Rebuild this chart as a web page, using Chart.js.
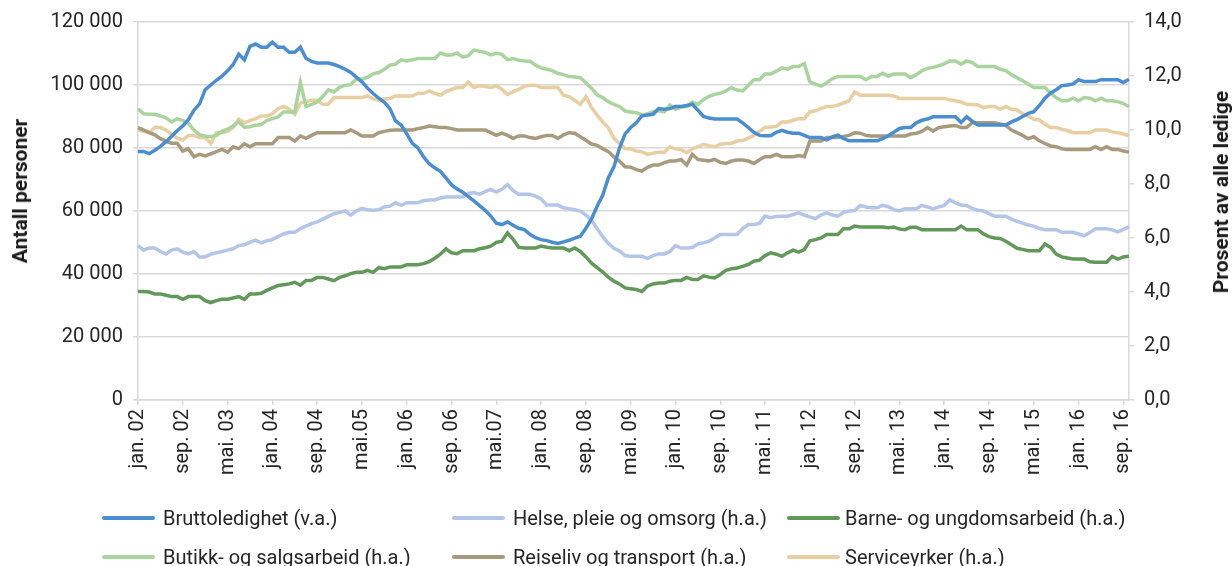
<!DOCTYPE html>
<html>
<head>
<meta charset="utf-8">
<script src="https://cdn.jsdelivr.net/npm/chart.js@4/dist/chart.umd.min.js"></script>
<style>
  html, body { margin: 0; padding: 0; background: #fff; }
  #wrap { position: relative; width: 1232px; height: 566px; overflow: hidden; font-family: Roboto, "Noto Sans", sans-serif; color: #262626; }
  canvas { position: absolute; left: 0; top: 0; }
  .axt { position: absolute; font-weight: bold; font-size: 21px; white-space: nowrap; transform: translate(-50%, -50%) rotate(-90deg); color: #1a1a1a; }
  .lg { position: absolute; font-size: 20px; white-space: nowrap; line-height: 24px; }
  .lgl { position: absolute; height: 4px; border-radius: 2px; }
</style>
</head>
<body>
<div id="wrap">
  <canvas id="c" width="1232" height="566"></canvas>
</div>
<script>
// ---- data ----
const monthNames = ["jan.","feb.","mar.","apr.","mai.","jun.","jul.","aug.","sep.","okt.","nov.","des."];
const firstYear = 2002;
const monthCount = 178; // jan. 2002 - okt. 2016

const tickLabels = ["jan. 02","sep. 02","mai. 03","jan. 04","sep. 04","mai.05","jan. 06","sep. 06","mai.07","jan. 08","sep. 08","mai. 09","jan. 10","sep. 10","mai. 11","jan. 12","sep. 12","mai. 13","jan. 14","sep. 14","mai. 15","jan. 16","sep. 16"];
const tickEvery = 8;

const seriesNames = ["Bruttoledighet (v.a.)","Helse, pleie og omsorg (h.a.)","Barne- og ungdomsarbeid (h.a.)","Butikk- og salgsarbeid (h.a.)","Reiseliv og transport (h.a.)","Serviceyrker (h.a.)"];

const bruttoledighet = [
  78900,78900,78200,79300,80500,82000,83700,85500,87000,89000,
  92000,94000,98500,100000,101500,102800,104500,106500,109800,108000,
  112300,113000,112000,112000,113600,112000,112000,110400,110400,112000,
  108500,107500,107000,107000,107000,106500,105800,105000,104000,102500,
  101000,99000,97300,95800,94500,92500,88600,87300,84500,81500,
  80000,77200,75000,73700,72600,70500,68300,67000,66000,64600,
  63200,61700,60200,58400,56100,55700,56500,55500,54500,54100,
  52600,51500,50900,50600,50100,49700,50200,50700,51400,52000,
  54500,57500,61500,65000,70500,74000,80000,84500,86500,88000,
  90200,90500,90700,92500,92300,92500,93200,93200,93500,93900,
  92000,90000,89500,89200,89200,89200,89200,89200,88000,86500,
  85000,84000,83900,83900,85000,85600,85000,84700,84700,84000,
  83300,83300,83300,82600,83500,84100,83000,82300,82300,82300,
  82300,82300,82300,83000,83900,85000,86200,86500,86500,88000,
  88800,89200,89900,89900,89900,89900,89900,88100,89900,88500,
  87300,87300,87300,87300,87300,87300,88300,89000,90000,91000,
  91500,93500,95800,97500,98500,99800,100000,100300,101700,101100,
  101100,101100,101700,101700,101700,101700,100800,101800
];

const helse = [
  5.72,5.55,5.63,5.63,5.50,5.41,5.55,5.60,5.48,5.41,
  5.50,5.30,5.30,5.40,5.45,5.50,5.55,5.60,5.72,5.75,
  5.85,5.92,5.82,5.90,5.94,6.05,6.15,6.21,6.21,6.35,
  6.44,6.53,6.60,6.70,6.80,6.90,6.95,7.00,6.85,7.00,
  7.10,7.05,7.03,7.05,7.15,7.18,7.31,7.21,7.31,7.31,
  7.31,7.38,7.41,7.41,7.48,7.52,7.52,7.52,7.52,7.65,
  7.68,7.62,7.72,7.80,7.70,7.80,7.98,7.75,7.62,7.62,
  7.62,7.55,7.45,7.22,7.22,7.22,7.12,7.08,7.05,7.00,
  6.85,6.65,6.35,6.05,5.80,5.62,5.52,5.35,5.32,5.32,
  5.32,5.24,5.35,5.41,5.41,5.50,5.72,5.63,5.63,5.65,
  5.78,5.82,5.88,6.00,6.13,6.13,6.13,6.13,6.35,6.50,
  6.50,6.54,6.81,6.75,6.80,6.81,6.81,6.87,6.93,6.85,
  6.78,6.72,6.85,6.93,6.85,6.81,6.95,7.00,7.02,7.21,
  7.15,7.12,7.12,7.21,7.16,7.05,7.00,7.08,7.08,7.08,
  7.21,7.15,7.08,7.15,7.21,7.41,7.30,7.22,7.20,7.10,
  7.03,7.00,6.90,6.81,6.81,6.81,6.70,6.62,6.55,6.48,
  6.44,6.35,6.31,6.31,6.31,6.21,6.21,6.21,6.15,6.09,
  6.20,6.34,6.34,6.34,6.30,6.23,6.32,6.41
];

const barne = [
  4.02,4.02,4.00,3.93,3.93,3.88,3.83,3.83,3.73,3.83,
  3.83,3.83,3.68,3.61,3.68,3.73,3.73,3.78,3.83,3.73,
  3.93,3.93,3.95,4.06,4.15,4.24,4.27,4.30,4.36,4.25,
  4.43,4.43,4.54,4.54,4.48,4.42,4.54,4.60,4.68,4.73,
  4.73,4.80,4.73,4.90,4.86,4.93,4.93,4.93,5.01,5.01,
  5.01,5.05,5.12,5.25,5.40,5.60,5.45,5.42,5.53,5.53,
  5.53,5.60,5.64,5.70,5.84,5.88,6.19,5.95,5.65,5.63,
  5.63,5.63,5.70,5.66,5.63,5.63,5.63,5.53,5.63,5.50,
  5.30,5.07,4.90,4.74,4.55,4.40,4.30,4.15,4.12,4.09,
  4.02,4.22,4.30,4.33,4.33,4.40,4.43,4.43,4.54,4.46,
  4.46,4.60,4.55,4.52,4.65,4.80,4.86,4.89,4.95,5.02,
  5.14,5.18,5.35,5.45,5.40,5.32,5.45,5.55,5.48,5.57,
  5.90,5.94,6.00,6.13,6.13,6.13,6.34,6.34,6.44,6.41,
  6.41,6.41,6.41,6.41,6.38,6.41,6.33,6.31,6.40,6.40,
  6.31,6.31,6.31,6.31,6.31,6.31,6.31,6.44,6.31,6.31,
  6.31,6.15,6.05,6.00,5.98,5.88,5.75,5.62,5.58,5.53,
  5.53,5.53,5.78,5.65,5.40,5.30,5.26,5.22,5.22,5.22,
  5.12,5.10,5.10,5.10,5.32,5.22,5.30,5.32
];

const butikk = [
  10.79,10.60,10.58,10.58,10.52,10.45,10.30,10.42,10.35,10.25,
  10.00,9.82,9.78,9.75,9.80,9.95,10.03,10.15,10.30,10.10,
  10.12,10.18,10.20,10.35,10.42,10.48,10.67,10.67,10.67,11.76,
  10.87,10.95,11.04,11.24,11.49,11.41,11.58,11.66,11.68,11.90,
  11.88,11.95,12.08,12.13,12.25,12.40,12.44,12.60,12.56,12.60,
  12.65,12.65,12.65,12.65,12.85,12.78,12.78,12.85,12.70,12.75,
  12.96,12.92,12.87,12.78,12.84,12.80,12.60,12.65,12.58,12.56,
  12.55,12.40,12.30,12.25,12.20,12.10,12.05,11.98,11.96,11.94,
  11.75,11.55,11.30,11.20,11.05,10.95,10.87,10.70,10.67,10.64,
  10.55,10.60,10.68,10.71,10.67,10.92,10.77,10.85,10.87,11.04,
  10.95,11.12,11.25,11.32,11.36,11.45,11.57,11.48,11.45,11.65,
  11.86,11.86,12.07,12.07,12.18,12.30,12.25,12.35,12.35,12.46,
  11.78,11.70,11.63,11.75,11.90,11.98,11.98,11.98,11.98,11.98,
  11.86,11.98,11.98,12.10,12.00,12.07,12.07,12.07,11.94,12.05,
  12.19,12.28,12.32,12.38,12.45,12.56,12.56,12.44,12.56,12.50,
  12.35,12.35,12.35,12.35,12.25,12.20,12.05,11.94,11.82,11.70,
  11.57,11.57,11.57,11.35,11.20,11.08,11.08,11.18,11.08,11.20,
  11.18,11.08,11.18,11.08,11.08,11.05,10.98,10.87
];

const reiseliv = [
  10.09,10.00,9.90,9.82,9.68,9.58,9.51,9.51,9.22,9.31,
  9.01,9.10,9.04,9.12,9.20,9.28,9.18,9.38,9.31,9.49,
  9.38,9.49,9.49,9.49,9.49,9.72,9.72,9.72,9.59,9.78,
  9.69,9.80,9.90,9.90,9.90,9.90,9.90,9.90,10.00,9.90,
  9.78,9.78,9.78,9.90,9.95,9.99,10.00,10.00,10.00,10.00,
  10.05,10.09,10.15,10.12,10.09,10.09,10.05,10.00,10.00,10.00,
  10.00,10.00,10.00,9.90,9.80,9.88,9.80,9.69,9.78,9.78,
  9.72,9.69,9.75,9.80,9.80,9.69,9.82,9.90,9.88,9.75,
  9.62,9.48,9.43,9.31,9.20,9.00,8.85,8.64,8.62,8.53,
  8.48,8.62,8.70,8.70,8.79,8.85,8.85,8.91,8.70,9.10,
  8.91,8.88,8.85,8.91,8.80,8.76,8.85,8.89,8.89,8.85,
  8.76,8.90,9.01,9.01,9.10,9.01,9.01,9.01,9.05,9.01,
  9.59,9.59,9.59,9.72,9.72,9.72,9.76,9.80,9.90,9.88,
  9.80,9.78,9.78,9.78,9.78,9.78,9.78,9.78,9.85,9.88,
  9.95,10.09,9.96,10.09,10.12,10.15,10.17,10.09,10.09,10.27,
  10.27,10.27,10.27,10.27,10.22,10.17,10.00,9.90,9.80,9.68,
  9.75,9.60,9.50,9.41,9.38,9.30,9.28,9.28,9.28,9.28,
  9.28,9.38,9.28,9.38,9.28,9.28,9.22,9.18
];

const serviceyrker = [
  10.00,9.95,9.90,10.09,10.09,10.00,9.84,9.70,9.63,9.80,
  9.80,9.72,9.72,9.51,9.90,9.90,9.95,10.09,10.40,10.27,
  10.35,10.42,10.52,10.52,10.60,10.79,10.87,10.77,10.58,11.00,
  11.05,11.10,11.10,10.95,10.95,11.20,11.20,11.20,11.20,11.20,
  11.20,11.26,11.15,11.10,11.15,11.17,11.26,11.26,11.26,11.26,
  11.36,11.36,11.45,11.36,11.29,11.42,11.50,11.57,11.57,11.78,
  11.57,11.64,11.62,11.57,11.64,11.50,11.32,11.42,11.50,11.62,
  11.66,11.66,11.57,11.57,11.57,11.57,11.29,11.24,11.10,10.95,
  11.24,10.83,10.55,10.30,10.09,9.70,9.50,9.31,9.31,9.22,
  9.20,9.10,9.14,9.18,9.18,9.38,9.30,9.28,9.16,9.30,
  9.38,9.47,9.42,9.38,9.47,9.49,9.51,9.59,9.61,9.70,
  9.80,9.95,10.09,10.11,10.13,10.30,10.30,10.36,10.42,10.42,
  10.67,10.71,10.80,10.87,10.87,10.92,11.00,11.08,11.41,11.29,
  11.29,11.29,11.29,11.29,11.29,11.26,11.17,11.17,11.17,11.17,
  11.17,11.17,11.17,11.17,11.17,11.12,11.08,11.04,10.95,10.94,
  10.93,10.83,10.87,10.87,10.77,10.87,10.77,10.74,10.60,10.52,
  10.40,10.37,10.21,10.09,10.09,10.03,9.98,9.90,9.90,9.90,
  9.90,10.00,10.00,10.00,9.93,9.90,9.85,9.78
];

// ---- build ----
const categories = [];
for (let i = 0; i < monthCount; i++) {
  const y = firstYear + Math.floor(i / 12);
  categories.push(monthNames[i % 12] + " " + String(y % 100).padStart(2, "0"));
}

const colors = ["#4a8ed0", "#b4c6e7", "#62985a", "#a9d49d", "#a89a7c", "#e8cfa1"];
const values = [bruttoledighet, helse, barne, butikk, reiseliv, serviceyrker];
const axes = ["y", "y1", "y1", "y1", "y1", "y1"];
// draw order: blue on top
const drawOrder = [0, 1, 2, 3, 4, 5];

const datasets = seriesNames.map((name, i) => ({
  label: name,
  data: values[i],
  yAxisID: axes[i],
  borderColor: colors[i],
  backgroundColor: colors[i],
  borderWidth: 3.5,
  pointRadius: 0,
  tension: 0,
  fill: false,
  order: drawOrder[i]
}));

const tickFont = { family: "Roboto", size: 20 };
const gridCol = "#d9d9d9";

function fmtLeft(v) {
  return String(v).replace(/\B(?=(\d{3})+(?!\d))/g, " ");
}
function fmtRight(v) {
  return Number(v).toFixed(1).replace(".", ",");
}

new Chart(document.getElementById("c").getContext("2d"), {
  type: "line",
  data: { labels: categories, datasets: datasets },
  options: {
    responsive: false,
    animation: false,
    layout: { padding: { top: 22, left: 0, right: 0, bottom: 0 } },
    plugins: { legend: { display: false }, tooltip: { enabled: false } },
    scales: {
      x: {
        type: "category",
        offset: false,
        grid: { drawOnChartArea: false, color: gridCol, tickLength: 5, lineWidth: 1.5 },
        border: { color: gridCol, width: 1.5 },
        ticks: {
          autoSkip: false, maxRotation: 90, minRotation: 90, padding: 4,
          font: tickFont, color: "#262626",
          callback: (v, i) => (i % tickEvery === 0 ? tickLabels[i / tickEvery] : null)
        },
        afterFit: (s) => { s.height = 166; }
      },
      y: {
        position: "left", min: 0, max: 120000,
        grid: { color: gridCol, tickLength: 5, lineWidth: 1.5 },
        border: { color: gridCol, width: 1.5 },
        ticks: { stepSize: 20000, padding: 10, font: tickFont, color: "#262626", callback: fmtLeft },
        afterFit: (s) => { s.width = 138; }
      },
      y1: {
        position: "right", min: 0, max: 14,
        grid: { drawOnChartArea: false, color: gridCol, tickLength: 5, lineWidth: 1.5 },
        border: { color: gridCol, width: 1.5 },
        ticks: { stepSize: 2, padding: 10, font: tickFont, color: "#262626", callback: fmtRight },
        afterFit: (s) => { s.width = 103; }
      }
    }
  }
});

// ---- axis titles ----
const wrap = document.getElementById("wrap");
function addTitle(text, x, y) {
  const d = document.createElement("div");
  d.className = "axt";
  d.textContent = text;
  d.style.left = x + "px";
  d.style.top = y + "px";
  wrap.appendChild(d);
}
addTitle("Antall personer", 20, 191);
addTitle("Prosent av alle ledige", 1221, 192);

// ---- legend (3 columns x 2 rows) ----
const colLineX = [102, 452, 787];
const colTextX = [163, 513, 845];
const rowY = [518, 557];
seriesNames.forEach((name, i) => {
  const c = i % 3, r = Math.floor(i / 3);
  const l = document.createElement("div");
  l.className = "lgl";
  l.style.left = colLineX[c] + "px";
  l.style.width = "53px";
  l.style.top = (rowY[r] - 2) + "px";
  l.style.background = colors[i];
  wrap.appendChild(l);
  const t = document.createElement("div");
  t.className = "lg";
  t.textContent = name;
  t.style.left = colTextX[c] + "px";
  t.style.top = (rowY[r] - 12) + "px";
  wrap.appendChild(t);
});
</script>
</body>
</html>
